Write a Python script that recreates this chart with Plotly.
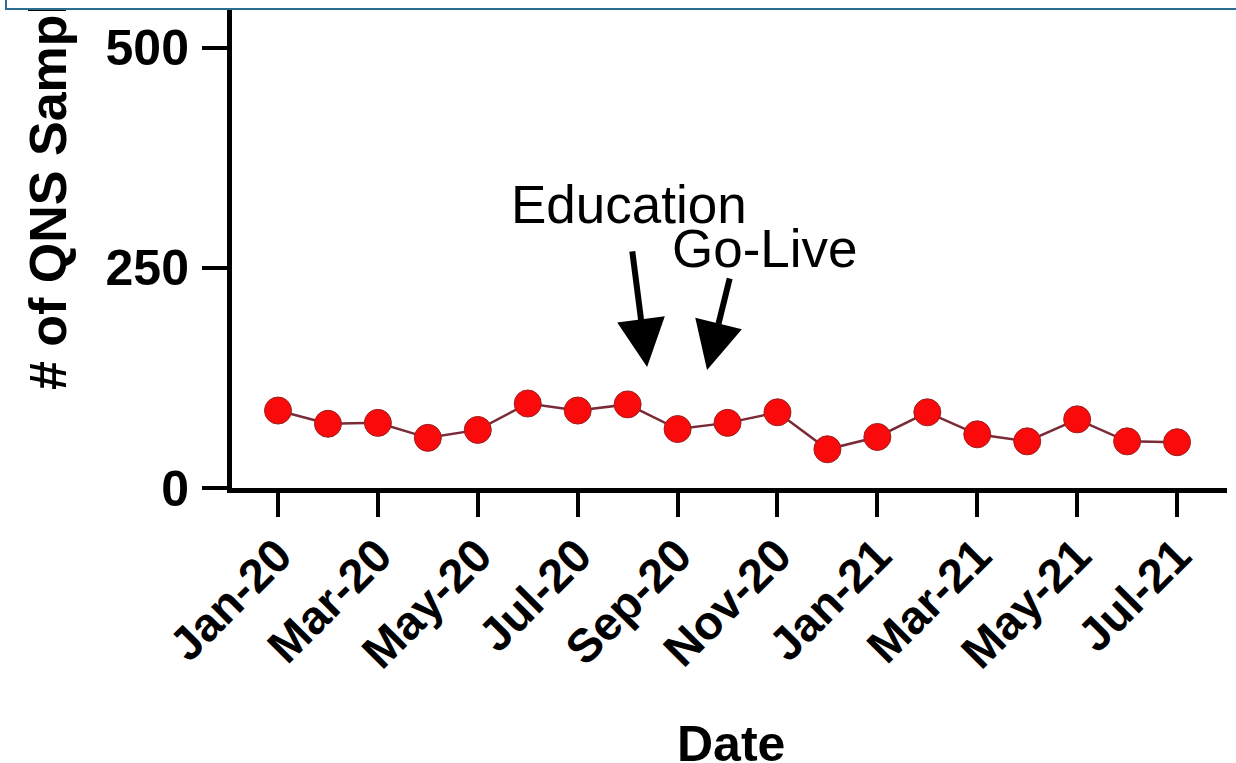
import plotly.graph_objects as go

months = ["Jan-20", "Feb-20", "Mar-20", "Apr-20", "May-20", "Jun-20", "Jul-20", "Aug-20",
          "Sep-20", "Oct-20", "Nov-20", "Dec-20", "Jan-21", "Feb-21", "Mar-21", "Apr-21",
          "May-21", "Jun-21", "Jul-21"]
qns_samples = [88, 73, 74, 57, 66, 96, 88, 95, 67, 74, 86, 44, 58, 86, 61, 53, 78, 53, 52]
tick_labels = months[::2]
y_ticks = [0, 250, 500]

x_idx = list(range(len(months)))

FONT = "Liberation Sans, Arial, sans-serif"

fig = go.Figure()
fig.add_trace(go.Scatter(
    x=x_idx, y=qns_samples, mode="lines+markers",
    line=dict(color="#7a2b38", width=2.5),
    marker=dict(size=27, color="#fa0a0a", line=dict(color="#9a2020", width=1)),
    hoverinfo="skip", showlegend=False,
))

annotations = [
    # Arrows
    dict(x=7.39, y=137.5, xref="x", yref="y", text="", showarrow=True,
         ax=-15, ay=-117, arrowhead=2, arrowsize=1.6, arrowwidth=6, arrowcolor="#000000"),
    dict(x=8.59, y=134, xref="x", yref="y", text="", showarrow=True,
         ax=23, ay=-93, arrowhead=2, arrowsize=1.6, arrowwidth=6, arrowcolor="#000000"),
    # Arrow labels
    dict(x=7.03, y=322, xref="x", yref="y", text="Education", showarrow=False,
         xanchor="center", yanchor="middle", font=dict(family=FONT, size=53, color="#000")),
    dict(x=9.75, y=272, xref="x", yref="y", text="Go-Live", showarrow=False,
         xanchor="center", yanchor="middle", font=dict(family=FONT, size=53, color="#000")),
    # Axis titles
    dict(x=0.5015, y=-0.524, xref="paper", yref="paper", text="<b>Date</b>", showarrow=False,
         xanchor="center", yanchor="middle", font=dict(family=FONT, size=50, color="#000")),
    dict(x=-0.1849, y=0.1967, xref="paper", yref="paper", text="<b># of QNS Samples</b>",
         showarrow=False, textangle=-90, xanchor="center", yanchor="bottom",
         font=dict(family=FONT, size=52, color="#000")),
    # Caption box border at the top (cropped)
    dict(x=-0.2281, y=0.9795, xref="paper", yref="paper", text=" ", showarrow=False,
         xanchor="left", yanchor="bottom", width=1400, height=30,
         bgcolor="#ffffff", bordercolor="#2a6f92", borderwidth=2, borderpad=0),
]

fig.update_layout(
    width=1236, height=763,
    margin=dict(l=232, r=9, t=0, b=275),
    paper_bgcolor="#ffffff", plot_bgcolor="#ffffff",
    font=dict(family=FONT, color="#000000"),
    annotations=annotations,
    xaxis=dict(
        range=[-0.921, 19.0],
        tickmode="array", tickvals=x_idx[::2], ticktext=[f"<b>{t}</b>" for t in tick_labels],
        tickangle=-45, tickfont=dict(family=FONT, size=47, color="#000"),
        showline=True, linewidth=5, linecolor="#000",
        ticks="outside", ticklen=24, tickwidth=4, tickcolor="#000",
        ticklabelstandoff=-8,
        showgrid=False, zeroline=False,
    ),
    yaxis=dict(
        range=[0, 554.5],
        tickmode="array", tickvals=y_ticks, ticktext=[f"<b>{v}</b>" for v in y_ticks],
        tickfont=dict(family=FONT, size=50, color="#000"),
        showline=True, linewidth=5, linecolor="#000",
        ticks="outside", ticklen=25, tickwidth=4, tickcolor="#000",
        ticklabelstandoff=3,
        showgrid=False, zeroline=False,
    ),
)

fig.write_html("out.html", config={"displayModeBar": False},
               post_script="document.body.style.margin='0';")
